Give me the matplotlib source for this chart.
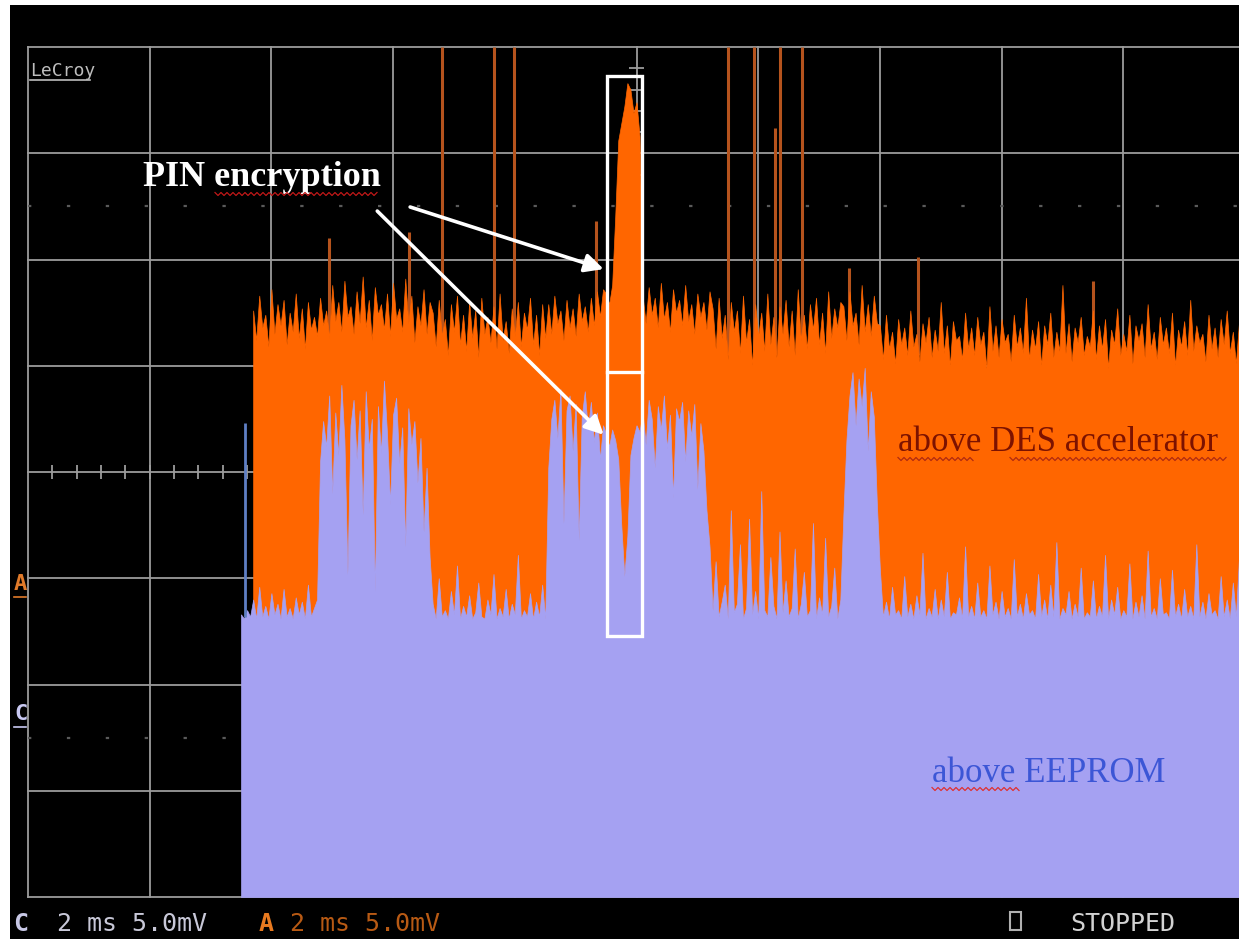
import numpy as np
import matplotlib
matplotlib.use("Agg")
import matplotlib.pyplot as plt
from matplotlib.lines import Line2D
from matplotlib.patches import Rectangle

# stored traces are sampled every 0.05 ms from 3.5 ms onwards
t_ms = np.round(3.5 + 0.05 * np.arange(331), 2)

# channel A, probe above the DES accelerator: upper edge of the trace (mV)
a_top_mv = [
    np.nan, np.nan, np.nan, np.nan,
    # 3.70 - 4.75 ms
    7.6, 6.2, 8.3, 6.8, 7.4, 5.9, 8.6, 6.5, 7.9, 6.9, 8.1, 6.0, 7.5, 6.6, 8.4, 6.3,
    7.7, 5.8, 8.0, 6.7, 7.3, 6.4,
    # 4.80 - 6.60 ms
    8.2, 6.9, 7.6, 6.3, 8.8, 7.1, 8.0, 6.6, 9.0, 7.3, 7.8, 6.5, 8.5, 7.0, 9.2, 6.8,
    8.1, 6.2, 8.7, 7.4, 7.9, 6.7, 8.4, 6.4, 8.9, 7.2, 7.7, 6.6, 9.1, 7.0, 8.3, 6.1,
    7.8, 6.9, 8.6, 6.5, 8.0,
    # 6.65 - 8.50 ms
    7.5, 5.9, 8.1, 6.4, 7.2, 5.5, 7.9, 6.6, 8.3, 6.0, 7.4, 5.7, 8.0, 6.3, 7.6, 5.4,
    8.2, 6.5, 7.3, 6.1, 7.8, 5.8, 8.4, 6.2, 7.1, 5.6, 7.7, 6.4, 8.0, 5.9, 7.5, 6.7,
    8.2, 6.0, 7.4, 5.5, 7.9, 6.3,
    # 8.55 - 9.45 ms
    7.9, 6.5, 8.3, 7.0, 7.6, 6.2, 8.1, 6.8, 7.7, 6.4, 8.4, 7.1, 7.8, 6.6, 8.2, 6.9,
    8.5, 7.3, 8.6,
    # 9.50 - 10.05 ms, PIN encryption burst
    8.4, 7.9, 8.8, 12.0, 15.6, 16.4, 17.2, 18.3, 18.0, 16.9, 17.4, 15.8,
    # 10.10 - 11.20 ms
    8.3, 7.0, 8.7, 7.4, 8.2, 6.8, 8.9, 7.2, 8.0, 6.6, 8.6, 7.5, 8.1, 6.9, 8.8, 7.1,
    7.9, 6.5, 8.4, 7.3, 8.0, 6.7, 8.5,
    # 11.25 - 13.35 ms
    7.7, 5.8, 8.2, 6.3, 7.4, 5.3, 8.0, 6.6, 7.6, 5.6, 8.3, 6.1, 7.2, 5.0, 7.9, 6.4,
    7.5, 5.7, 8.4, 6.0, 7.3, 5.4, 7.8, 6.5, 8.1, 5.9, 7.6, 5.5, 8.6, 6.2, 7.4, 5.8,
    7.9, 6.7, 8.2, 6.0, 7.5, 5.6, 8.5, 6.3, 7.7, 6.8, 8.0,
    # 13.40 - 13.95 ms
    7.8, 6.2, 8.5, 6.9, 7.5, 6.0, 8.8, 6.6, 7.9, 6.4, 8.3, 7.0,
    # 14.00 - 20.00 ms
    6.9, 5.3, 7.4, 5.8, 6.6, 5.1, 7.2, 6.0, 6.8, 5.5,
    7.6, 5.9, 6.5, 5.2, 7.0, 6.1, 7.3, 5.4, 6.7, 5.7,
    8.0, 5.6, 6.9, 5.0, 7.1, 6.2, 6.4, 5.3, 7.5, 5.8,
    6.8, 5.5, 7.3, 6.0, 6.6, 4.9, 7.8, 5.7, 6.9, 5.4,
    7.2, 6.1, 6.5, 5.2, 7.4, 5.9, 6.8, 5.6, 8.2, 5.3,
    6.7, 5.8, 7.1, 5.0, 6.9, 6.0, 7.5, 5.4, 6.6, 5.7,
    8.8, 5.6, 7.0, 5.2, 6.8, 6.1, 7.3, 5.5, 6.4, 5.9,
    7.6, 5.3, 6.9, 5.8, 7.2, 4.9, 6.7, 6.0, 7.7, 5.5,
    6.5, 5.7, 7.4, 5.1, 6.9, 6.2, 7.0, 5.4, 7.9, 5.8,
    6.6, 5.3, 7.3, 6.0, 6.8, 5.6, 7.5, 5.0, 6.7, 5.9,
    7.1, 5.5, 8.1, 5.7, 6.9, 6.1, 6.5, 5.2, 7.4, 5.8,
    6.8, 5.4, 7.2, 6.0, 7.6, 5.6, 6.6, 5.1, 7.0, 5.9,
    7.3,
]
a_floor_mv = -7.5

# channel C, probe above the EEPROM: upper edge of the trace (mV)
c_top_mv = [
    -6.7, -6.9, -6.5, -6.8,
    # 3.70 - 4.75 ms
    -6.0, -6.9, -5.4, -6.8, -6.3, -6.9, -5.7, -6.7, -6.2, -6.9, -5.5, -6.8, -6.4, -6.9,
    -5.9, -6.7, -6.1, -6.9, -5.3, -6.8, -6.4, -6.0,
    # 4.80 - 6.60 ms
    0.5, 2.4, 1.2, 3.6, -1.0, 2.8, 0.8, 4.1, 1.5, -4.8, 2.2, 3.4, 0.6, 2.9, -2.0, 3.8,
    1.1, 2.5, -5.6, 3.1, 0.9, 4.3, 1.8, -1.5, 2.7, 3.5, 0.4, 2.1, -3.5, 3.0, 1.3, 2.4,
    -0.5, 1.6, -2.8, 0.2, -4.0,
    # 6.65 - 8.50 ms
    -6.2, -6.9, -5.0, -6.8, -6.5, -6.9, -5.6, -6.7, -4.4, -6.9, -6.3, -6.8, -5.8, -6.9,
    -6.6, -5.2, -6.8, -6.9, -6.0, -6.7, -4.8, -6.9, -6.4, -6.8, -5.5, -6.9, -6.2, -6.7,
    -3.9, -6.9, -6.5, -6.8, -5.7, -6.9, -6.1, -6.8, -5.3, -6.9,
    # 8.55 - 9.45 ms
    0.2, 2.5, 3.4, 1.6, 3.9, -2.4, 2.9, 3.6, 1.0, 3.2, -3.2, 2.6, 3.8, 2.0, 3.3, 1.4,
    2.8, 0.6, 2.2,
    # 9.50 - 10.05 ms
    1.8, 1.2, 2.0, 1.5, 0.6, -2.5, -4.9, -3.0, 0.8, 1.6, 2.2, 1.9,
    # 10.10 - 11.20 ms
    2.8, 1.3, 3.4, 2.5, 0.2, 3.1, 2.0, 3.6, 1.1, 2.7, -1.2, 3.0, 2.4, 3.3, 0.5, 2.9,
    1.7, 3.2, -0.8, 2.3, 1.0, -1.8, -3.5,
    # 11.25 - 13.35 ms
    -6.5, -4.2, -6.8, -6.1, -5.3, -6.9, -1.8, -6.6, -6.2, -3.4, -6.9, -6.4, -2.2, -6.7,
    -5.6, -6.9, -0.9, -6.5, -6.8, -4.0, -6.3, -6.9, -2.8, -6.6, -5.1, -6.8, -6.4, -3.6,
    -6.9, -6.2, -4.7, -6.8, -6.5, -2.4, -6.9, -5.9, -6.7, -3.1, -6.8, -6.3, -4.5, -6.9,
    -6.0,
    # 13.40 - 13.95 ms
    -2.0, 1.5, 3.6, 4.7, 2.2, 4.4, 3.1, 4.9, 1.0, 3.8, 2.6, -1.5,
    # 14.00 - 20.00 ms
    -4.6, -6.8, -6.1, -6.9, -5.4, -6.7, -6.5, -6.9, -4.9, -6.8,
    -6.2, -6.9, -5.8, -6.7, -3.8, -6.9, -6.4, -6.8, -5.5, -6.9,
    -6.0, -6.8, -4.7, -6.9, -6.6, -6.7, -5.9, -6.9, -3.5, -6.8,
    -6.3, -6.9, -5.2, -6.8, -6.5, -6.9, -4.4, -6.7, -6.1, -6.9,
    -5.6, -6.8, -6.4, -6.9, -4.1, -6.8, -6.2, -6.9, -5.7, -6.7,
    -6.5, -6.9, -4.8, -6.8, -6.0, -6.9, -5.3, -6.8, -3.3, -6.9,
    -6.4, -6.7, -5.6, -6.9, -6.2, -6.8, -4.5, -6.9, -6.6, -6.8,
    -5.1, -6.9, -6.3, -6.8, -3.9, -6.9, -6.0, -6.7, -5.4, -6.9,
    -6.5, -6.8, -4.3, -6.9, -6.1, -6.8, -5.8, -6.9, -3.7, -6.8,
    -6.4, -6.9, -5.0, -6.7, -6.6, -6.9, -4.6, -6.8, -6.2, -6.9,
    -5.5, -6.8, -6.3, -6.9, -3.4, -6.8, -6.1, -6.9, -5.7, -6.7,
    -6.5, -6.9, -4.9, -6.8, -6.0, -6.9, -5.2, -6.8, -4.1, -6.9,
    -6.3,
]

# isolated glitches on channel A: time (ms) and peak (mV)
a_spike_t = [4.95, 6.26, 6.80, 7.66, 7.98, 9.33, 11.51, 11.93, 12.28, 12.36, 12.72, 13.50, 14.62, 17.50]
a_spike_mv = [11.0, 11.3, 20.0, 20.0, 20.0, 11.8, 20.0, 20.0, 16.2, 20.0, 20.0, 9.6, 10.1, 9.0]

# leading edge of channel C
c_edge_t = 3.56
c_edge_mv = 2.3

assert len(a_top_mv) == len(t_ms) == len(c_top_mv)

W, H = 1239, 939
GRID = "#9c9c9c"
ORANGE = "#ff6600"
LAVENDER = "#a5a1f2"

fig = plt.figure(figsize=(W / 100, H / 100), dpi=100, facecolor="white")


def fx(x):
    return x / W


def fy(y):
    return 1 - y / H


def fig_line(xs, ys, **kw):
    fig.add_artist(Line2D(np.asarray(xs) / W, 1 - np.asarray(ys) / H,
                          transform=fig.transFigure, **kw))


def squiggle(x0, x1, y, color):
    xs = np.arange(x0, x1, 3.0)
    ys = y + np.where(np.arange(len(xs)) % 2 == 0, -1.5, 1.5)
    fig_line(xs, ys, color=color, lw=0.9, zorder=10)


# scope screen
fig.add_artist(Rectangle((fx(10), 0), 1, fy(5), transform=fig.transFigure,
                         facecolor="black", edgecolor="none", zorder=0))

ax = fig.add_axes([fx(28), fy(897), 1217 / W, 850 / H])
ax.set_facecolor("black")
ax.set_xlim(0, 20)
ax.set_ylim(-20, 20)
ax.set_xticks([])
ax.set_yticks([])
for s in ax.spines.values():
    s.set_visible(False)

# graticule
for x in np.arange(0, 21, 2):
    ax.axvline(x, color=GRID, lw=1.3, zorder=1, clip_on=False)
for y in np.arange(-20, 21, 5):
    ax.axhline(y, color=GRID, lw=1.3, zorder=1, clip_on=False)
ax.vlines(np.arange(0.4, 20, 0.4), -0.33, 0.33, color=GRID, lw=1.3, zorder=1)
ax.hlines(np.arange(-19, 20, 1), 9.88, 10.12, color=GRID, lw=1.3, zorder=1)
for y in (12.5, -12.5):
    ax.axhline(y, color="#5a5a5a", lw=1.6, ls=(0, (1.5, 16)), zorder=1)

# traces
ax.vlines(a_spike_t, 5.5, a_spike_mv, color="#b5531d", lw=2.2, zorder=2)
ax.fill_between(t_ms, a_floor_mv, np.array(a_top_mv, dtype=float),
                color=ORANGE, lw=0.5, zorder=3)
ax.fill_between(t_ms, -20, c_top_mv, color=LAVENDER, lw=0.5, zorder=4)
ax.vlines(c_edge_t, -6.8, c_edge_mv, color="#5f7fc4", lw=2, zorder=5)

# highlighted PIN encryption window
ax.add_patch(Rectangle((9.515, -7.72), 0.575, 26.36, fill=False,
                       edgecolor="white", lw=2.4, zorder=7))
ax.plot([9.515, 10.09], [4.71, 4.71], color="white", lw=2.4, zorder=7)

arrow = dict(arrowstyle="-|>", color="white", lw=2.6, mutation_scale=28,
             shrinkA=0, shrinkB=0)
ax.annotate("", xy=(9.46, 9.55), xytext=(6.28, 12.47), arrowprops=arrow, zorder=8)
ax.annotate("", xy=(9.46, 1.75), xytext=(5.74, 12.28), arrowprops=arrow, zorder=8)

serif = "Liberation Serif"
ax.text(1.89, 13.46, "PIN encryption", family=serif, weight="bold", size=26,
        color="white", va="baseline", zorder=8)
ax.text(14.30, 0.99, "above DES accelerator", family=serif, size=25,
        color="#7c1200", va="baseline", zorder=8)
ax.text(14.86, -14.6, "above EEPROM", family=serif, size=25,
        color="#3c56d6", va="baseline", zorder=8)

squiggle(215, 380, 194, "#c01818")
squiggle(898, 975, 459, "#b02a10")
squiggle(1010, 1228, 459, "#b02a10")
squiggle(932, 1022, 789, "#e03030")

# scope labels
mono = "DejaVu Sans Mono"
fig.text(fx(30), fy(76), "LeCroy", family=mono, size=13, color="#bdbdbd", va="baseline")
fig_line([30, 90], [80, 80], color="#bdbdbd", lw=1.2)

fig.text(fx(14), fy(590), "A", family=mono, weight="bold", size=16, color="#e07a2a", va="baseline")
fig_line([14, 26], [597, 597], color="#e07a2a", lw=1.2)
fig.text(fx(14), fy(720), "C", family=mono, weight="bold", size=16, color="#c9c9f2", va="baseline")
fig_line([14, 26], [727, 727], color="#c9c9f2", lw=1.2)

fig.text(fx(13), fy(931), "C", family=mono, weight="bold", size=18, color="#c8c8e6", va="baseline")
fig.text(fx(57), fy(931), "2 ms 5.0mV", family=mono, size=18, color="#c8c8d8", va="baseline")
fig.text(fx(259), fy(931), "A", family=mono, weight="bold", size=18, color="#e87a20", va="baseline")
fig.text(fx(290), fy(931), "2 ms 5.0mV", family=mono, size=18, color="#b85a14", va="baseline")
fig.add_artist(Rectangle((fx(1010), fy(930)), 11 / W, 18 / H, transform=fig.transFigure,
                         fill=False, edgecolor="#b0b0b0", lw=1.5))
fig.text(fx(1070), fy(931), "STOPPED", family=mono, size=18, color="#d2d2d2", va="baseline")

fig.savefig("out.png", dpi=100, facecolor="white")
